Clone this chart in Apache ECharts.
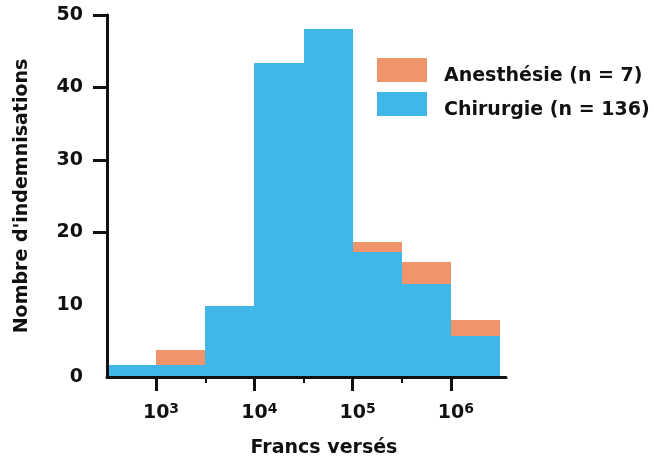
<!DOCTYPE html>
<html><head><meta charset="utf-8">
<script src="https://cdn.jsdelivr.net/npm/echarts@6/dist/echarts.min.js"></script>
<style>html,body{margin:0;padding:0;background:#fff}#c{width:654px;height:459px}</style>
</head><body><div id="c"></div>
<script>
// bins in log10(francs)
const binStarts = [2.5, 3, 3.5, 4, 4.5, 5, 5.5, 6];
const binEnds   = [3, 3.5, 4, 4.5, 5, 5.5, 6, 6.5];
const chirurgie  = [1.7, 1.7, 9.8, 43.4, 48.1, 17.2, 12.8, 5.6];
const anesthesie = [0, 2.0, 0, 0, 0, 1.4, 3.1, 2.3];
const majorTicks = [3, 4, 5, 6];
const minorTicks = [3.5, 4.5, 5.5];
const yTickValues = [20, 30, 40, 50];
const seriesNames = ['Anesthésie (n = 7)', 'Chirurgie (n = 136)'];
const xName = 'Francs versés';
const yName = "Nombre d'indemnisations";

const FONT = 'DejaVu Sans';
const blueData = binStarts.map((s, i) => [s, binEnds[i], 0, chirurgie[i]]);
const orangeData = binStarts.map((s, i) => [s, binEnds[i], chirurgie[i], chirurgie[i] + anesthesie[i]])
  .filter((d, i) => anesthesie[i] > 0);

function renderItem(params, api) {
  const p1 = api.coord([api.value(0), api.value(3)]);
  const p2 = api.coord([api.value(1), api.value(2)]);
  const x1 = Math.round(p1[0]), x2 = Math.round(p2[0]);
  const y1 = Math.round(p1[1]), y2 = Math.round(p2[1]);
  return {
    type: 'rect',
    shape: { x: x1, y: y1, width: x2 - x1, height: y2 - y1 },
    style: { fill: api.visual('color') }
  };
}

const chart = echarts.init(document.getElementById('c'), null, { renderer: 'canvas' });
const axisTextBase = { fontFamily: FONT, fontWeight: 'bold', fontSize: 19, color: '#111' };
chart.setOption({
  animation: false,
  backgroundColor: '#fff',
  grid: { left: 107, right: 148, top: 15, bottom: 82, containLabel: false, outerBoundsMode: 'none' },
  legend: {
    orient: 'vertical', left: 377, top: 58, padding: 0,
    itemWidth: 50, itemHeight: 24, itemGap: 6, icon: 'rect',
    data: seriesNames,
    formatter: n => '{t|' + n + '}',
    textStyle: Object.assign({}, axisTextBase, {
      rich: { t: Object.assign({}, axisTextBase, { padding: [13, 0, 0, 12] }) }
    })
  },
  xAxis: [{
    type: 'value', min: 2.5, max: 6.56, z: 5,
    axisLine: { show: true, lineStyle: { color: '#111', width: 3 } },
    axisTick: { show: true, customValues: majorTicks, length: 14, lineStyle: { color: '#111', width: 3 } },
    splitLine: { show: false },
    axisLabel: {
      customValues: majorTicks, margin: 25,
      formatter: v => '{sp|' + v + '}{b|10}{s|' + v + '}',
      rich: {
        b: { fontFamily: FONT, fontWeight: 'bold', fontSize: 19, color: '#111' },
        s: { fontFamily: FONT, fontWeight: 'bold', fontSize: 14, color: '#111', padding: [0, 0, 9, 0] },
        sp: { fontFamily: FONT, fontWeight: 'bold', fontSize: 14, color: 'rgba(0,0,0,0)', padding: [0, 0, 9, 0] }
      }
    },
    name: xName, nameLocation: 'middle', nameGap: 62,
    nameTextStyle: Object.assign({}, axisTextBase, { padding: [0, 0, 0, 35] })
  }, {
    type: 'value', min: 2.5, max: 6.56, z: 5, position: 'bottom', offset: 0,
    axisLine: { show: false },
    axisTick: { show: true, customValues: minorTicks, length: 6, lineStyle: { color: '#111', width: 2 } },
    axisLabel: { show: false },
    splitLine: { show: false }
  }],
  yAxis: {
    type: 'value', min: 0, max: 50, interval: 10, z: 5,
    axisLine: { show: true, lineStyle: { color: '#111', width: 3 } },
    axisTick: { show: true, customValues: yTickValues, length: 14, lineStyle: { color: '#111', width: 3 } },
    splitLine: { show: false },
    axisLabel: Object.assign({}, axisTextBase, { margin: 24 }),
    name: yName, nameLocation: 'middle', nameGap: 75,
    nameTextStyle: axisTextBase
  },
  series: [{
    name: seriesNames[0], type: 'custom', renderItem: renderItem,
    itemStyle: { color: '#F0956B' }, encode: { x: [0, 1], y: [2, 3] },
    data: orangeData
  }, {
    name: seriesNames[1], type: 'custom', renderItem: renderItem,
    itemStyle: { color: '#41B6E9' }, encode: { x: [0, 1], y: [2, 3] },
    data: blueData
  }]
});
</script>
</body></html>
